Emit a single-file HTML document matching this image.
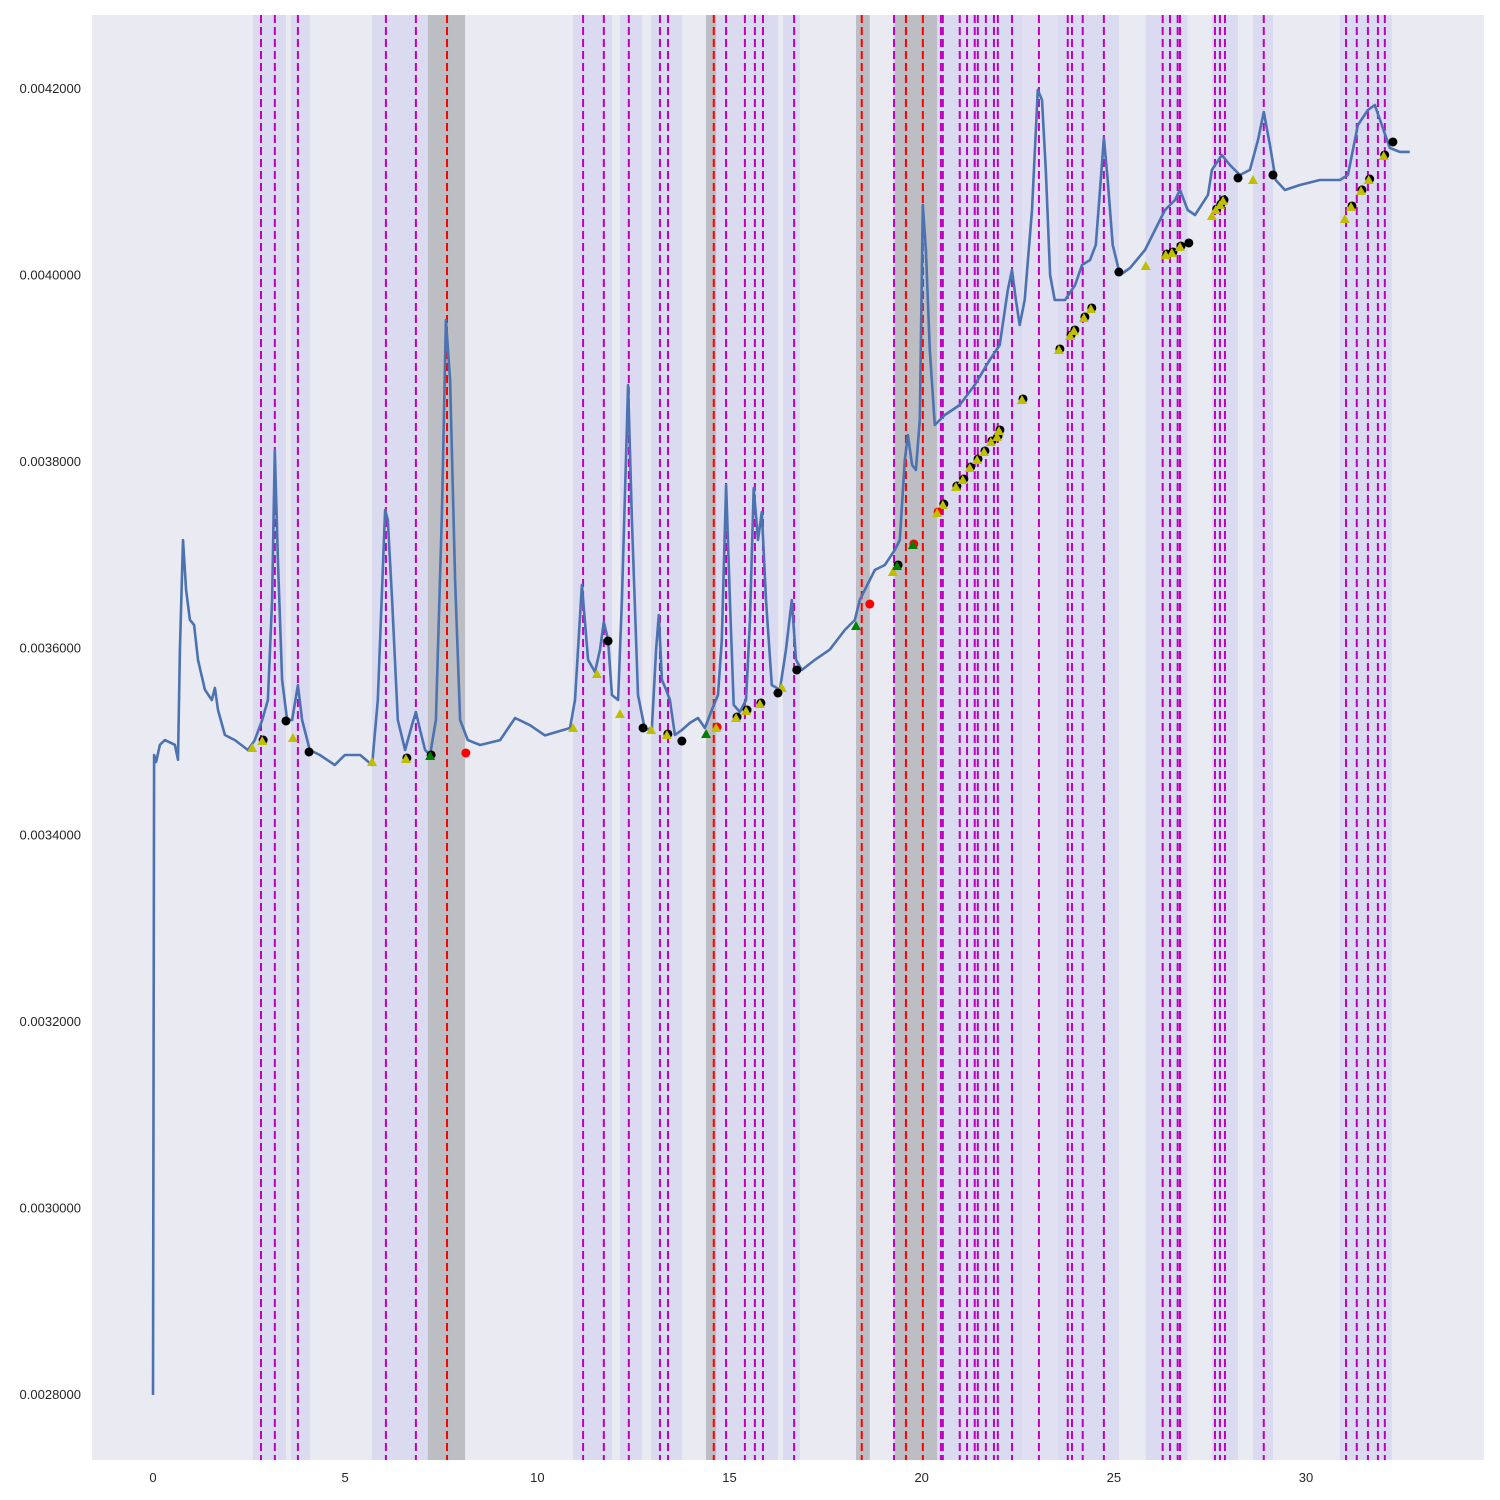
<!DOCTYPE html>
<html><head><meta charset="utf-8"><style>
html,body{margin:0;padding:0;background:#fff;}
svg{display:block;font-family:"Liberation Sans",sans-serif;}
</style></head><body>
<svg id="chart" width="1500" height="1500" xmlns="http://www.w3.org/2000/svg">
<rect x="92" y="15" width="1392" height="1445" fill="#EAEAF2"/>
<g id="spans"></g>
<g id="vlines"></g>
<g id="series"></g>
<g id="markers"></g>
<g id="axes"></g>
</svg>
<script>
// values in units of 1e-3
const lineT=[0,0.03,0.08,0.18,0.31,0.57,0.65,0.70,0.78,0.86,0.96,1.07,1.17,1.35,1.53,1.61,1.69,1.87,2.13,2.47,2.65,2.84,2.99,3.10,3.17,3.25,3.36,3.49,3.62,3.77,3.88,4.08,4.34,4.73,4.99,5.39,5.70,5.85,6.04,6.11,6.22,6.37,6.56,6.74,6.84,6.95,7.08,7.21,7.36,7.52,7.62,7.73,7.86,7.99,8.19,8.51,9.03,9.42,9.81,10.20,10.85,10.98,11.16,11.32,11.50,11.63,11.73,11.84,11.94,12.10,12.20,12.36,12.46,12.62,12.80,12.98,13.09,13.16,13.24,13.35,13.45,13.58,13.76,13.97,14.18,14.36,14.54,14.70,14.80,14.91,15.01,15.11,15.27,15.43,15.53,15.63,15.74,15.84,15.95,16.10,16.31,16.47,16.62,16.73,16.88,17.22,17.61,18.00,18.26,18.39,18.52,18.78,19.04,19.30,19.43,19.56,19.64,19.75,19.85,19.95,20.03,20.11,20.21,20.34,20.60,20.99,21.38,21.77,22.03,22.24,22.35,22.45,22.55,22.68,22.87,23.02,23.13,23.23,23.34,23.46,23.73,23.99,24.17,24.38,24.53,24.64,24.74,24.84,24.97,25.16,25.42,25.81,26.07,26.33,26.59,26.72,26.92,27.11,27.45,27.55,27.81,28.02,28.28,28.54,28.75,28.90,29.06,29.21,29.45,29.84,30.36,30.88,31.09,31.35,31.61,31.79,31.97,32.18,32.44,32.70,33.01];
const lineV=[2.800,3.486,3.4785,3.497,3.502,3.497,3.481,3.599,3.7165,3.663,3.631,3.6254,3.588,3.556,3.545,3.558,3.5343,3.5075,3.502,3.4914,3.502,3.5236,3.545,3.6522,3.813,3.6951,3.5664,3.5236,3.5236,3.561,3.5236,3.4914,3.486,3.4753,3.486,3.486,3.4753,3.545,3.7487,3.738,3.6522,3.5236,3.4914,3.5182,3.5321,3.5128,3.4914,3.486,3.5236,3.7487,3.9524,3.888,3.6736,3.5236,3.502,3.4968,3.502,3.5257,3.518,3.507,3.515,3.545,3.6683,3.588,3.575,3.599,3.6286,3.6093,3.5504,3.545,3.6522,3.8827,3.738,3.5504,3.5128,3.515,3.599,3.6361,3.5664,3.556,3.545,3.5075,3.5128,3.5204,3.5257,3.515,3.5343,3.5504,3.6093,3.7755,3.6522,3.5396,3.5321,3.545,3.6286,3.7723,3.7165,3.7465,3.6522,3.561,3.556,3.599,3.6522,3.588,3.5772,3.588,3.599,3.62,3.6306,3.6522,3.663,3.6844,3.6897,3.7058,3.7165,3.8023,3.8291,3.7969,3.7916,3.8452,4.0756,4.0274,3.9202,3.8398,3.8505,3.8612,3.8827,3.9095,3.9256,3.9845,4.006,3.9738,3.947,3.9738,4.0703,4.199,4.1882,4.1132,4.0006,3.9738,3.9738,3.9899,4.0113,4.0167,4.0328,4.0917,4.1475,4.1024,4.0328,4.0006,4.0081,4.0274,4.0488,4.0703,4.081,4.0917,4.0703,4.0649,4.0864,4.1132,4.1292,4.1185,4.1078,4.1132,4.1453,4.1753,4.14,4.1024,4.0917,4.0971,4.1024,4.1024,4.1078,4.1614,4.1775,4.1828,4.1614,4.1368,4.1325,4.1325];
const markerT=[2.58,3.64,5.70,10.93,11.55,12.15,12.96,16.36,25.83,28.62,31.01,19.25,27.55,2.84,6.58,13.37,15.17,15.43,15.79,20.55,20.89,21.07,21.25,21.44,21.62,21.80,21.96,22.01,22.61,23.57,23.86,23.96,24.22,24.40,26.35,26.51,26.72,27.65,27.76,27.84,31.17,31.43,31.63,32.02,3.46,4.06,11.84,12.75,13.76,16.26,25.13,26.95,28.23,29.14,32.26,16.75,19.36,8.14,18.65,20.40,19.77,14.65,7.21,14.39,18.29];
const markerV=[3.4936,3.5043,3.4785,3.515,3.5729,3.530,3.5128,3.558,4.0103,4.1024,4.0606,3.6822,4.0639,3.501,3.4818,3.5075,3.5257,3.5332,3.5407,3.754,3.7733,3.7808,3.7937,3.8023,3.8109,3.8216,3.8269,3.8334,3.8666,3.9202,3.9352,3.9406,3.9545,3.9642,4.022,4.0242,4.0306,4.0703,4.0756,4.08,4.0735,4.0907,4.1024,4.1282,3.5225,3.4893,3.6083,3.515,3.501,3.5525,4.0038,4.0349,4.1046,4.1078,4.1432,3.5772,3.6887,3.4882,3.6479,3.7455,3.7112,3.515,3.485,3.5086,3.6243];
const markerKind=["y","y","y","y","y","y","y","y","y","y","y","y","y","ky","ky","ky","ky","ky","ky","ky","ky","ky","ky","ky","ky","ky","ky","ky","ky","ky","ky","ky","ky","ky","ky","ky","ky","ky","ky","ky","ky","ky","ky","ky","k","k","k","k","k","k","k","k","k","k","k","k","kg","r","r","ry","rg","ry","kg","g","g"];
const magentaT=[2.81,3.17,3.77,6.06,6.84,11.19,11.73,12.38,13.19,13.40,14.91,15.40,15.66,15.87,16.68,19.28,20.50,20.55,20.99,21.18,21.38,21.46,21.67,21.88,21.98,22.35,23.05,23.80,23.91,24.19,24.74,26.27,26.46,26.66,26.72,27.63,27.76,27.89,28.90,31.04,31.32,31.61,31.87,32.05];
const redT=[7.65,14.59,18.44,19.59,20.03];
const spanStart=[2.60,3.59,5.70,10.93,12.15,12.96,14.65,16.39,19.25,20.40,22.61,23.54,25.83,27.55,28.62,30.88];
const spanEnd=[3.46,4.08,7.15,11.94,12.72,13.76,16.26,16.83,20.40,22.61,23.54,25.13,26.92,28.23,29.14,32.23];
const graySpanStart=[7.15,14.39,18.29,19.30];
const graySpanEnd=[8.12,14.65,18.65,20.40];
const xTicks=[0,5,10,15,20,25,30];
const yTicks=[2.8,3.0,3.2,3.4,3.6,3.8,4.0,4.2];
const yTickLabels=["0.0028000","0.0030000","0.0032000","0.0034000","0.0036000","0.0038000","0.0040000","0.0042000"];

const X0=92,X1=1484,Y0=15,Y1=1460,TMIN=-1.587,TMAX=34.63,VMIN=2.7303,VMAX=4.2793;
const sx=t=>X0+(t-TMIN)/(TMAX-TMIN)*(X1-X0);
const sy=v=>Y1-(v-VMIN)/(VMAX-VMIN)*(Y1-Y0);
const NS="http://www.w3.org/2000/svg";
function mk(tag,parent,attrs){const e=document.createElementNS(NS,tag);for(const k in attrs)e.setAttribute(k,attrs[k]);parent.appendChild(e);return e;}

const gS=document.getElementById('spans');
spanStart.forEach((s,i)=>{const r=mk('rect',gS,{x:sx(s),y:Y0,width:sx(spanEnd[i])-sx(s),height:Y1-Y0,fill:i==10?'#E0E0F2':'#DADAF0'});

});
graySpanStart.forEach((s,i)=>{const r=mk('rect',gS,{x:sx(s),y:Y0,width:sx(graySpanEnd[i])-sx(s),height:Y1-Y0,fill:'#BDBDC4'});

});

const gL=document.getElementById('vlines');
magentaT.forEach(t=>{const l=mk('line',gL,{x1:sx(t),x2:sx(t),y1:Y0,y2:Y1,stroke:'#BF00BF','stroke-width':2,'stroke-dasharray':'8,4'});

});
redT.forEach(t=>{const l=mk('line',gL,{x1:sx(t),x2:sx(t),y1:Y0,y2:Y1,stroke:'#FF0000','stroke-width':2,'stroke-dasharray':'8,4'});

});

const gSe=document.getElementById('series');
const pts=lineT.map((t,i)=>sx(t).toFixed(1)+','+sy(lineV[i]).toFixed(1)).join(' ');
const pl=mk('polyline',gSe,{points:pts,fill:'none',stroke:'#4C72B0','stroke-width':2.6,'stroke-linejoin':'round'});



const gM=document.getElementById('markers');
function circ(x,y,c){const e=mk('circle',gM,{cx:x,cy:y,r:4.5,fill:c});

}
function tri(x,y,c){const e=mk('polygon',gM,{points:`${x},${y-5} ${x-5},${y+4} ${x+5},${y+4}`,fill:c});

}
markerT.forEach((t,i)=>{const x=sx(t),y=sy(markerV[i]),k=markerKind[i];
if(k=='y')tri(x,y,'#BFBF00');
if(k=='k')circ(x,y,'#000');
if(k=='ky'){circ(x+1,y-1,'#000');tri(x,y,'#BFBF00');}
if(k=='kg'){circ(x+1,y-1,'#000');tri(x,y,'#008000');}
if(k=='r')circ(x,y,'#FF0000');
if(k=='ry'){circ(x+1,y-1,'#FF0000');tri(x,y,'#BFBF00');}
if(k=='rg'){circ(x+1,y-1,'#FF0000');tri(x,y,'#008000');}
if(k=='g')tri(x,y,'#008000');});

const gA=document.getElementById('axes');
xTicks.forEach(t=>{const e=mk('text',gA,{x:sx(t),y:1482,'text-anchor':'middle','font-size':13,fill:'#262626'});e.textContent=String(t);

});
yTicks.forEach((v,i)=>{const e=mk('text',gA,{x:81,y:sy(v)+4,'text-anchor':'end','font-size':13,fill:'#262626'});e.textContent=yTickLabels[i];

});
</script>
</body></html>
